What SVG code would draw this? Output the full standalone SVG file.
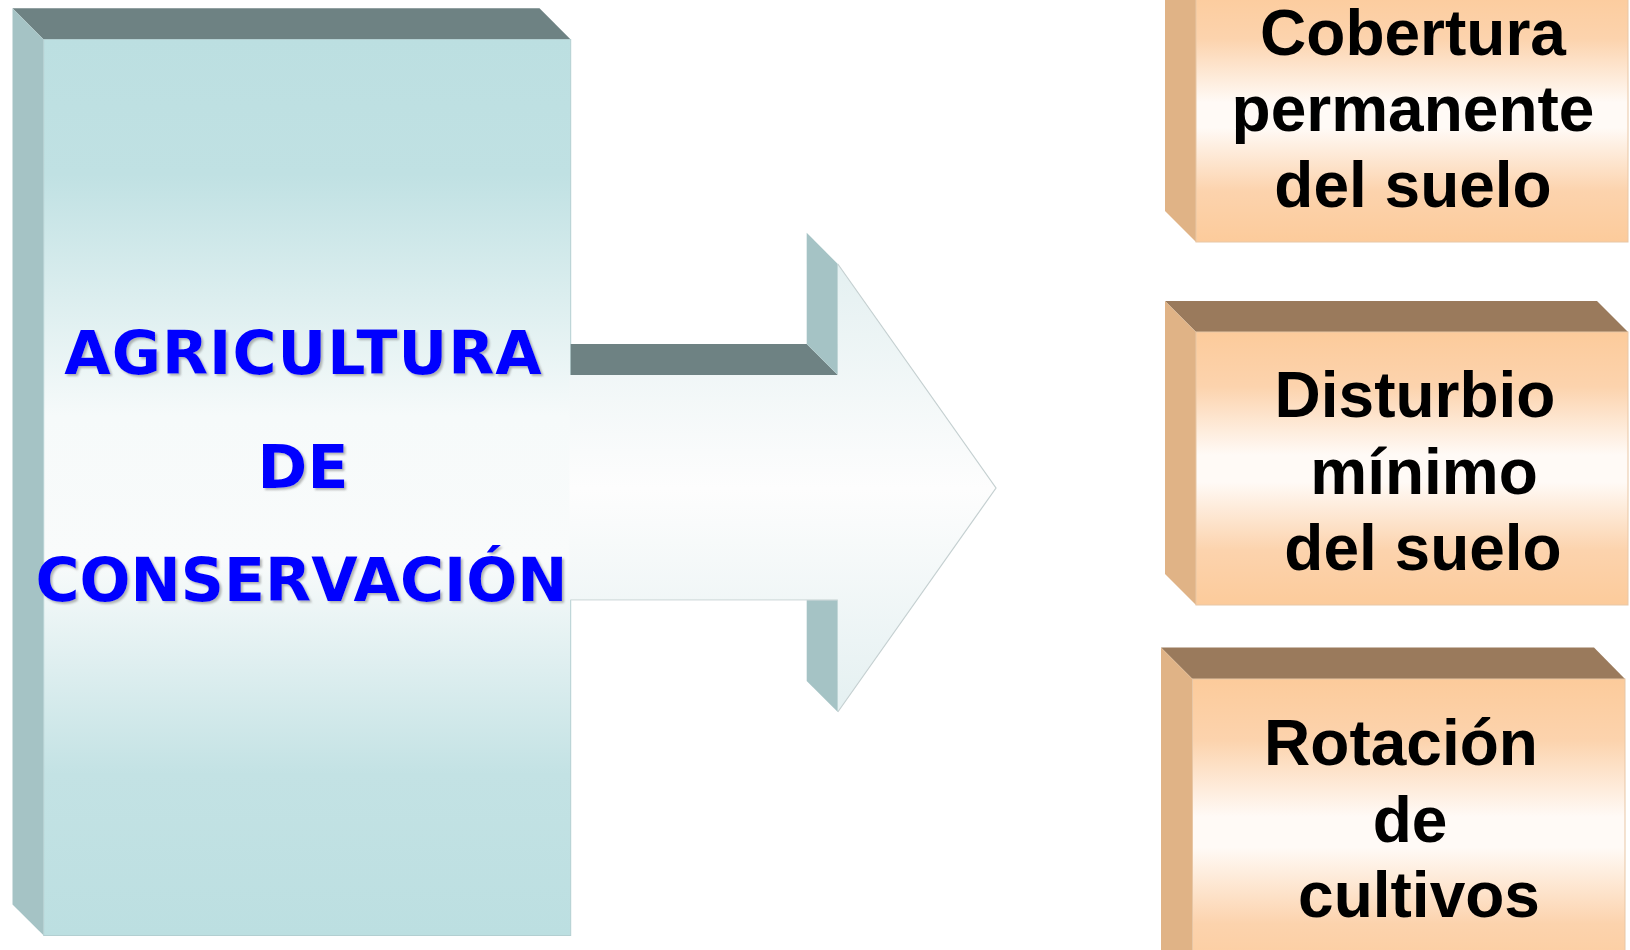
<svg xmlns="http://www.w3.org/2000/svg" width="1630" height="950" viewBox="0 0 1630 950">
<defs>
<linearGradient id="gTeal" x1="0" y1="0" x2="0" y2="1">
<stop offset="0" stop-color="#bcdfe1"/>
<stop offset="0.15" stop-color="#c0e1e3"/>
<stop offset="0.42" stop-color="#f6fafa"/>
<stop offset="0.58" stop-color="#f9fbfb"/>
<stop offset="0.82" stop-color="#c3e2e4"/>
<stop offset="1" stop-color="#bcdfe1"/>
</linearGradient>
<linearGradient id="gArrow" gradientUnits="userSpaceOnUse" x1="0" y1="264" x2="0" y2="712">
<stop offset="0" stop-color="#e4f0f1"/>
<stop offset="0.5" stop-color="#fdfdfd"/>
<stop offset="1" stop-color="#e4f0f1"/>
</linearGradient>
<linearGradient id="gPeach" x1="0" y1="0" x2="0" y2="1">
<stop offset="0" stop-color="#fccb9b"/>
<stop offset="0.2" stop-color="#fcd3ad"/>
<stop offset="0.45" stop-color="#fffaf6"/>
<stop offset="0.55" stop-color="#fffaf6"/>
<stop offset="0.8" stop-color="#fcd3ad"/>
<stop offset="1" stop-color="#fccb9b"/>
</linearGradient>
<filter id="shadow" x="-5%" y="-20%" width="110%" height="140%">
<feDropShadow dx="2" dy="2" stdDeviation="1" flood-color="#7a7a7a" flood-opacity="0.55"/>
</filter>
</defs>
<style>
.tealTop{fill:#6e8283}
.tealSide{fill:#a5c3c5}
.tealFront{fill:url(#gTeal);stroke:#b3cfd1;stroke-width:1}
.peachTop{fill:#9a7a5c}
.peachSide{fill:#e0b386}
.peachFront{fill:url(#gPeach);stroke:#e8c7a6;stroke-width:1}
.blueText{font-family:"DejaVu Sans","Verdana",sans-serif;font-weight:bold;font-size:60px;fill:#0000ff;text-anchor:middle;filter:url(#shadow)}
.blackText{font-family:"Liberation Sans",Arial,sans-serif;font-weight:bold;font-size:64px;fill:#000000;text-anchor:middle}
</style>
<rect width="1630" height="950" fill="#ffffff"/>

<g id="node-agricultura">
<polygon class="tealTop" points="12.5,8.3 539.5,8.3 570.7,39.5 43.7,39.5"/>
<polygon class="tealSide" points="12.5,8.3 43.7,39.5 43.7,935.6 12.5,904.4"/>
<rect class="tealFront" x="43.7" y="39.5" width="527" height="896"/>
</g>

<g id="connectors">
<polygon class="tealTop" points="570.7,344 806.7,344 837.8,375 570.7,375"/>
<polygon class="tealSide" points="806.7,232.8 837.8,264 837.8,375 806.7,344"/>
<polygon class="tealSide" points="806.7,599.8 837.8,599.8 837.8,712 806.7,681"/>
<polygon fill="url(#gArrow)" points="569.5,375 837.8,375 837.8,264 996,488 837.8,712 837.8,599.8 569.5,599.8"/>
<polyline fill="none" stroke="#c5d0d1" stroke-width="1.2" points="837.8,264 996,488 837.8,712"/>
<line x1="570.7" y1="599.8" x2="837.8" y2="599.8" stroke="#d3dcdd" stroke-width="1.2"/>
</g>

<g id="label-agricultura">
<text class="blueText" x="303.5" y="374" letter-spacing="1">AGRICULTURA</text>
<text class="blueText" x="303" y="488">DE</text>
<text class="blueText" x="301.5" y="601">CONSERVACIÓN</text>
</g>

<g id="node-cobertura">
<polygon class="peachTop" points="1165,-43 1597,-43 1628,-12 1196,-12"/>
<polygon class="peachSide" points="1165,-43 1196,-12 1196,242 1165,211"/>
<rect class="peachFront" x="1196" y="-12" width="432" height="254"/>
<text class="blackText" x="1413" y="55">Cobertura</text>
<text class="blackText" x="1413" y="131">permanente</text>
<text class="blackText" x="1413" y="207">del suelo</text>
</g>

<g id="node-disturbio">
<polygon class="peachTop" points="1165,301 1597,301 1628,332 1196,332"/>
<polygon class="peachSide" points="1165,301 1196,332 1196,605 1165,574"/>
<rect class="peachFront" x="1196" y="332" width="432" height="273"/>
<text class="blackText" x="1415" y="417">Disturbio</text>
<text class="blackText" x="1424" y="493.5">mínimo</text>
<text class="blackText" x="1423" y="570">del suelo</text>
</g>

<g id="node-rotacion">
<polygon class="peachTop" points="1161,647.5 1594,647.5 1625,679 1192.5,679"/>
<polygon class="peachSide" points="1161,647.5 1192.5,679 1192.5,990 1161,960"/>
<rect class="peachFront" x="1192.5" y="679" width="432.5" height="306"/>
<text class="blackText" x="1401" y="765">Rotación</text>
<text class="blackText" x="1410" y="841.5">de</text>
<text class="blackText" x="1419" y="917">cultivos</text>
</g>
</svg>
